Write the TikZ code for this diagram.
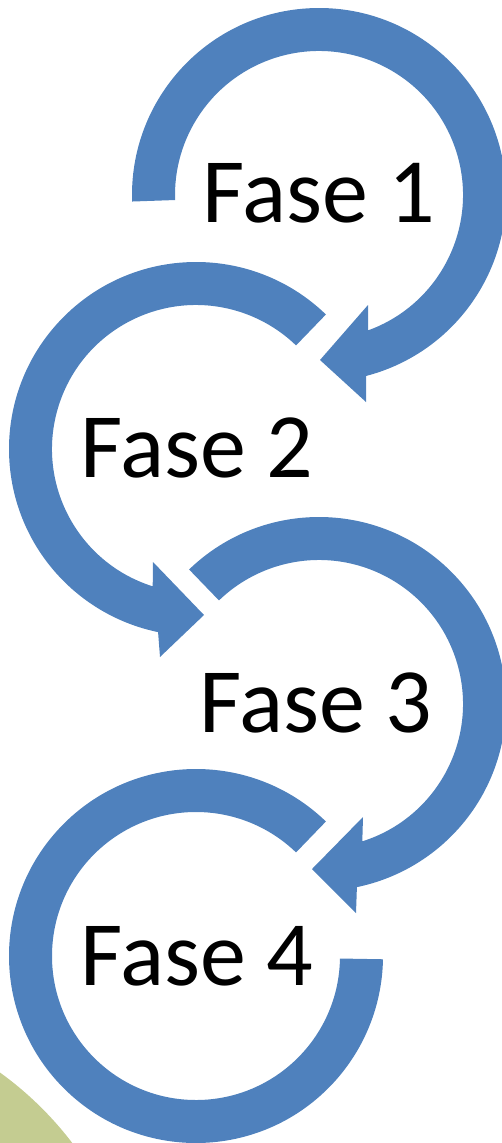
\documentclass[tikz,border=0pt]{standalone}
\usepackage{fontspec}
\setmainfont{Carlito}
\usetikzlibrary{calc}
\definecolor{arrowblue}{HTML}{4F81BD}
\definecolor{olive}{HTML}{C4CC91}
\begin{document}
\begin{tikzpicture}[x=1pt,y=-1pt,
  ring/.style={fill=arrowblue},
  phase/.style={inner sep=0pt,anchor=base west,font=\fontsize{92}{110}\selectfont}]
\useasboundingbox (0,0) rectangle (502,1143);
\begin{scope}
\clip (0,0) rectangle (502,1143);
% background green shape
\fill[olive] (-200,1350) circle[radius=342];
\coordinate (c1) at (319,195);
\coordinate (c2) at (196,449);
\coordinate (c3) at (319,704);
\coordinate (c4) at (196,956);
% arrow 1
\fill[ring] ($(c1)+(178:187)$) arc[start angle=178,end angle=435.4,radius=187]
  -- (366,402) -- (320,360) -- (368,305) -- ($(c1)+(430.1:144)$)
  arc[start angle=430.1,end angle=178,radius=144] -- cycle;
% arrow 2
\fill[ring] ($(c2)+(-46:187)$) arc[start angle=-46,end angle=-258.3,radius=187]
  -- (160,657) -- (204,615) -- (153,562) -- ($(c2)+(-252.5:144)$)
  arc[start angle=-252.5,end angle=-46,radius=144] -- cycle;
% arrow 3
\fill[ring] ($(c3)+(226:187)$) arc[start angle=226,end angle=438.3,radius=187]
  -- (356,913) -- (312,869) -- (363,817) -- ($(c3)+(432.5:144)$)
  arc[start angle=432.5,end angle=226,radius=144] -- cycle;
% arc 4
\fill[ring] ($(c4)+(-46:187)$) arc[start angle=-46,end angle=-359,radius=187]
  -- ($(c4)+(-359:144)$) arc[start angle=-359,end angle=-46,radius=144] -- cycle;
\end{scope}
\node[phase] (f1) at (202,222) {Fase 1};
\node[phase] (f2) at (80,477) {Fase 2};
\node[phase] (f3) at (199,732) {Fase 3};
\node[phase] (f4) at (80,985) {Fase 4};
\end{tikzpicture}
\end{document}
